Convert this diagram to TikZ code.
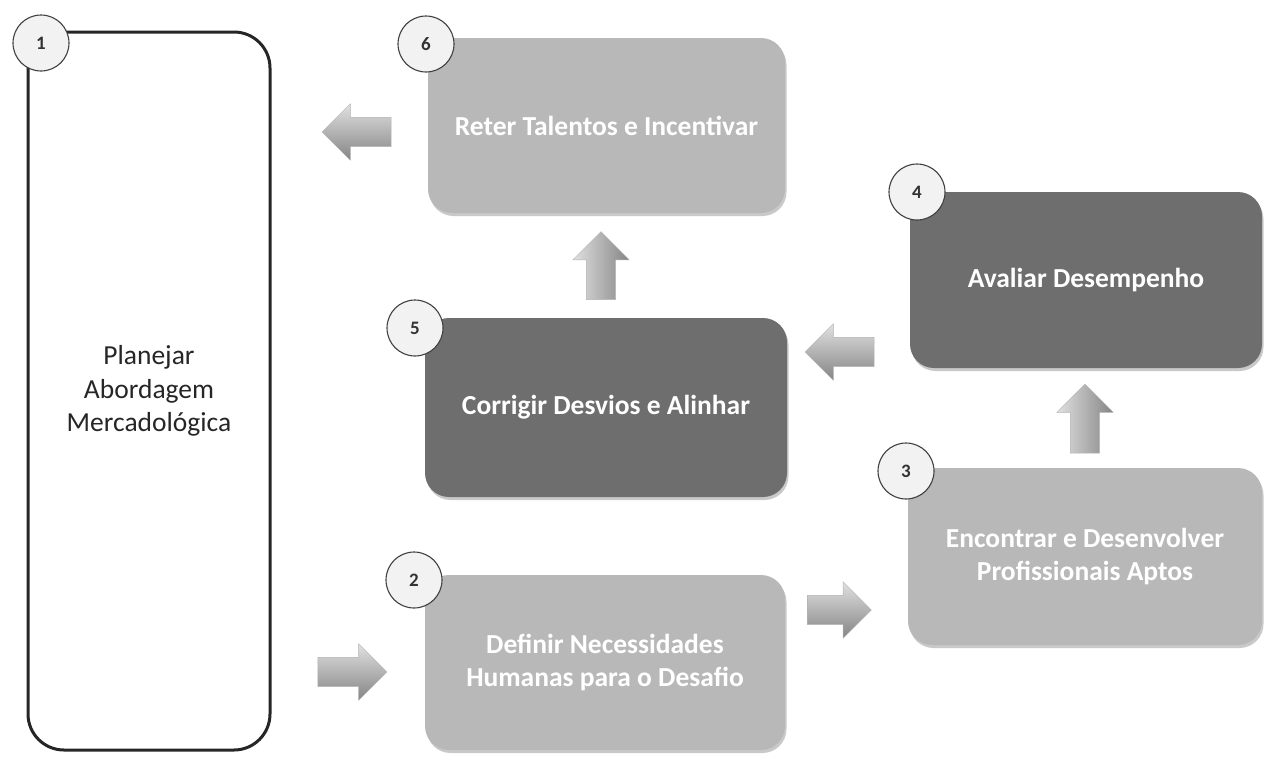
\documentclass[tikz,border=0pt]{standalone}
\usepackage{fontspec}
\setmainfont{Carlito}
\usetikzlibrary{shapes.arrows,shadows}
\begin{document}
\begin{tikzpicture}[x=1pt,y=-1pt,
  lightbox/.style={rectangle, rounded corners=24pt, fill=black!28, text=white,
    font=\bfseries\fontsize{27.5}{33}\selectfont, align=center, inner sep=0pt,
    drop shadow={shadow xshift=1.5pt, shadow yshift=-3pt, opacity=0.3, fill=black!70}},
  darkbox/.style={lightbox, fill=black!57},
  outlinebox/.style={rectangle, rounded corners=36pt, draw=black!85, line width=3pt, fill=white,
    text=black!85, font=\fontsize{27.5}{33.5}\selectfont, align=center, inner sep=0pt},
  num/.style={circle, minimum size=56pt, inner sep=0pt, draw=black!75, line width=1.1pt,
    fill=black!5, text=black!80, font=\bfseries\fontsize{19}{21}\selectfont},
  blockarrow/.style={single arrow, single arrow head extend=13.5pt, inner sep=14.5pt,
    draw=black!30, line width=0.4pt, minimum height=69pt},
  harrow/.style={blockarrow, top color=black!12, bottom color=black!48},
  varrow/.style={blockarrow, left color=black!12, right color=black!48, shape border rotate=90}
]
\useasboundingbox (0,0) rectangle (1266,758);

% boxes
\node[outlinebox, minimum width=242pt, minimum height=718pt] (b1) at (149,391)
  {Planejar\\Abordagem\\Mercadológica};
\node[lightbox, minimum width=357pt, minimum height=175pt] (b6) at (606.5,125.5)
  {Reter Talentos e Incentivar};
\node[darkbox, minimum width=352pt, minimum height=176pt] (b4) at (1086,280)
  {Avaliar Desempenho};
\node[darkbox, minimum width=362pt, minimum height=179pt] (b5) at (606,407.5)
  {Corrigir Desvios e Alinhar};
\node[lightbox, minimum width=354pt, minimum height=177pt] (b3) at (1085,556.5)
  {Encontrar e Desenvolver\\Profissionais Aptos};
\node[lightbox, minimum width=360pt, minimum height=175pt] (b2) at (605,662.5)
  {Definir Necessidades\\Humanas para o Desafio};

% number circles
\node[num] (n1) at (41,43) {1};
\node[num] (n6) at (426,44) {6};
\node[num] (n4) at (917,192) {4};
\node[num] (n5) at (415,328) {5};
\node[num] (n3) at (906,471) {3};
\node[num] (n2) at (414,580) {2};

% block arrows
\node[harrow, shape border rotate=180] (a61) at (364,132) {};
\node[varrow, minimum height=68pt] (a56) at (601,273) {};
\node[harrow, shape border rotate=180] (a45) at (847,352) {};
\node[varrow] (a34) at (1085,426) {};
\node[harrow, minimum height=64pt] (a23) at (832,610) {};
\node[harrow] (a12) at (345,672) {};
\end{tikzpicture}
\end{document}
